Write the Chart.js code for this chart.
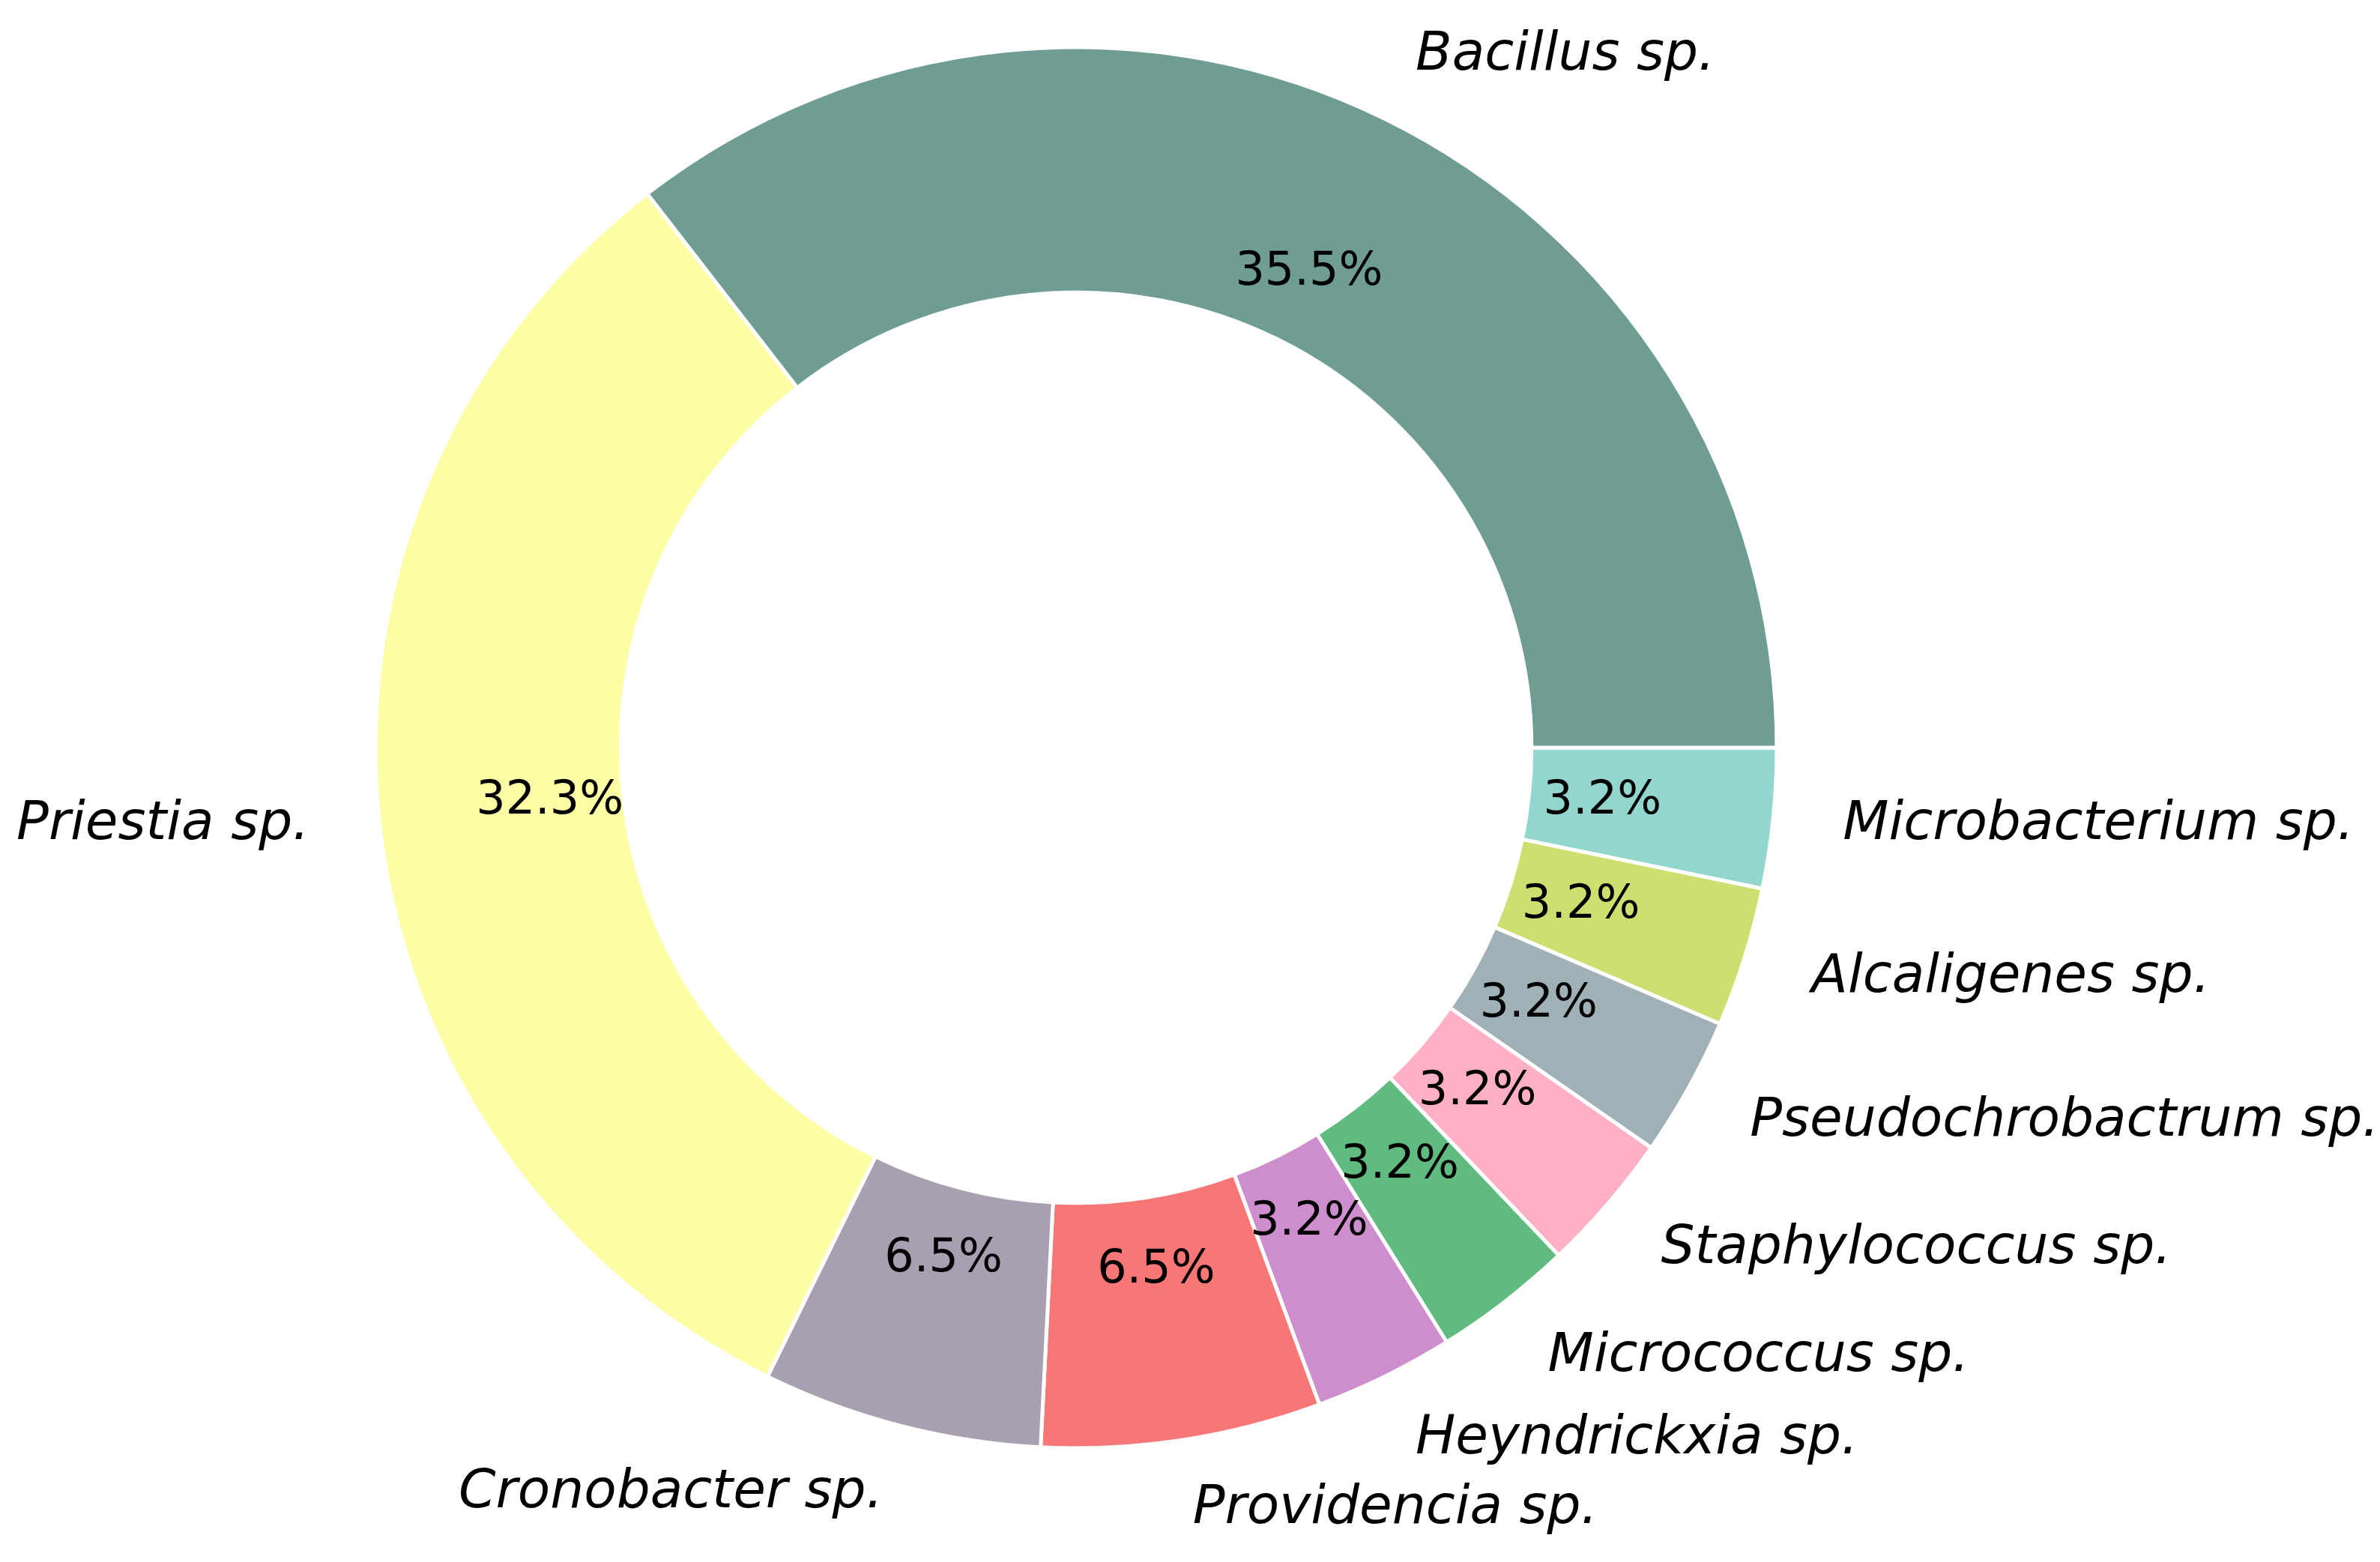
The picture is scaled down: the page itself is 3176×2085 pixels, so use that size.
<!DOCTYPE html>
<html>
<head>
<meta charset="utf-8">
<script src="https://cdn.jsdelivr.net/npm/chart.js@4.4.1/dist/chart.umd.min.js"></script>
<style>
    html, body { margin: 0; padding: 0; background: #ffffff; }
    #caixa { width: 3176px; height: 2085px; }
</style>
</head>
<body>
<div id="caixa"><canvas id="grafico-especies"></canvas></div>
<script>
// Dados do gráfico (ordem do matplotlib, sentido anti-horário a partir das 3 horas)
const especies = [
    'Bacillus sp.', 'Priestia sp.', 'Cronobacter sp.', 'Providencia sp.',
    'Heyndrickxia sp.', 'Micrococcus sp.', 'Staphylococcus sp.',
    'Pseudochrobactrum sp.', 'Alcaligenes sp.', 'Microbacterium sp.'
];
const contagens = [11, 10, 2, 2, 1, 1, 1, 1, 1, 1];
const cores = [
    '#6f9d94', '#fdfda6', '#a89fb2', '#f77776', '#ce8ecd',
    '#5fbb80', '#ffb0c4', '#a0b0b7', '#cfdf6f', '#93d5cf'
];

// Chart.js desenha no sentido horário, então invertemos a ordem
const labelsGrafico = especies.slice().reverse();
const valoresGrafico = contagens.slice().reverse();
const coresGrafico = cores.slice().reverse();

Chart.defaults.font.family = '"DejaVu Sans", sans-serif';

// Plugin para desenhar rótulos externos e percentuais
const rotulosPlugin = {
    id: 'rotulos',
    afterDatasetsDraw(chart) {
        const ctx = chart.ctx;
        const meta = chart.getDatasetMeta(0);
        const dados = chart.data.datasets[0].data;
        const total = dados.reduce((a, b) => a + b, 0);

        ctx.save();
        ctx.fillStyle = '#000000';
        ctx.textBaseline = 'middle';

        meta.data.forEach((arco, i) => {
            const p = arco.getProps(['x', 'y', 'startAngle', 'endAngle', 'outerRadius'], true);
            const meio = (p.startAngle + p.endAngle) / 2;
            const cos = Math.cos(meio);
            const sin = Math.sin(meio);

            // Percentual dentro do anel
            const rPct = p.outerRadius * 0.755;
            ctx.font = '62px "DejaVu Sans"';
            ctx.textAlign = 'center';
            ctx.fillText((dados[i] / total * 100).toFixed(1) + '%', p.x + cos * rPct, p.y + sin * rPct);

            // Nome da espécie fora do anel
            const rRot = p.outerRadius * 1.1;
            ctx.font = 'italic 71px "DejaVu Sans"';
            ctx.textAlign = cos > 0 ? 'left' : 'right';
            ctx.fillText(chart.data.labels[i], p.x + cos * rRot, p.y + sin * rRot);
        });
        ctx.restore();
    }
};

const ctxEspecies = document.getElementById('grafico-especies');
new Chart(ctxEspecies, {
    type: 'doughnut',
    data: {
        labels: labelsGrafico,
        datasets: [{
            data: valoresGrafico,
            backgroundColor: coresGrafico,
            borderColor: '#ffffff',
            borderWidth: 5,
            hoverOffset: 0
        }]
    },
    options: {
        responsive: true,
        maintainAspectRatio: false,
        devicePixelRatio: 1,
        animation: false,
        rotation: 90,
        cutout: '65%',
        radius: 935,
        layout: {
            padding: { left: 502, right: 806, top: 63, bottom: 152 }
        },
        plugins: {
            legend: { display: false },
            tooltip: { enabled: false }
        }
    },
    plugins: [rotulosPlugin]
});
</script>
</body>
</html>
